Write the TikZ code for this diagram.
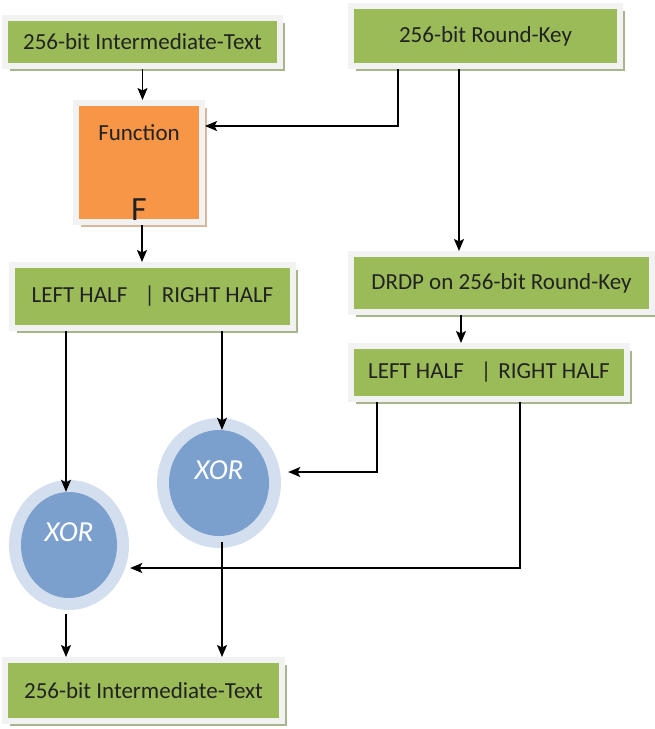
\documentclass[tikz,border=0pt]{standalone}
\usepackage{fontspec}
\setmainfont{Carlito}
\usetikzlibrary{arrows.meta,shadows,shapes.geometric}

\definecolor{boxgreen}{HTML}{9BBB59}
\definecolor{boxframe}{HTML}{F2F2F2}
\definecolor{greenshadow}{HTML}{A7B58E}
\definecolor{fnorange}{HTML}{F79646}
\definecolor{fnshadow}{HTML}{D6B89C}
\definecolor{xorfill}{HTML}{7BA0CD}
\definecolor{xorring}{HTML}{D3DFEE}
\definecolor{ink}{HTML}{222222}

\tikzset{
  block/.style={rectangle, inner sep=0pt, draw=boxframe, line width=6pt,
    fill=boxgreen, text=ink, font=\fontsize{23}{27}\selectfont,
    drop shadow={shadow xshift=5pt, shadow yshift=-5pt, fill=greenshadow, opacity=1}},
  fnblock/.style={block, fill=fnorange,
    drop shadow={shadow xshift=5pt, shadow yshift=-5pt, fill=fnshadow, opacity=1}},
  xorop/.style={ellipse, inner sep=0pt, fill=xorfill,
    preaction={draw=xorring, line width=24pt},
    text=white, font=\itshape\fontsize{29}{33}\selectfont,
    text height=20pt, text depth=27.4pt},
  conn/.style={draw=black, line width=1.4pt,
    -{Stealth[length=12pt,width=10pt,inset=2.5pt]}},
  halves/.style={block}
}

\begin{document}
\begin{tikzpicture}[x=1pt, y=-1pt]
  \fill[white] (0,0) rectangle (654,729);
  \useasboundingbox (0,0) rectangle (654,729);

  % text and key blocks
  \node[block, minimum width=275pt, minimum height=48pt] (txtin) at (142.5,42) {256-bit Intermediate-Text};
  \node[block, minimum width=269pt, minimum height=60pt] (rkey) at (485.5,36) {256-bit Round-Key};
  \node[fnblock, minimum width=126pt, minimum height=119pt,
        text height=17pt, text depth=62pt,
        label={[anchor=base, yshift=-47.5pt, text=ink, font=\fontsize{34}{40}\selectfont]center:F}]
        (func) at (139,162.5) {Function};
  \node[halves, minimum width=281pt, minimum height=63pt] (halfA) at (152.5,296.5)
        {LEFT HALF\hspace{17pt}|\hspace{7pt}RIGHT HALF};
  \node[block, minimum width=301pt, minimum height=58pt] (drdp) at (501.5,283) {DRDP on 256-bit Round-Key};
  \node[halves, minimum width=276pt, minimum height=53pt] (halfB) at (489,372.5)
        {LEFT HALF\hspace{17pt}|\hspace{7pt}RIGHT HALF};
  \node[block, minimum width=277pt, minimum height=61pt] (txtout) at (143.5,690.5) {256-bit Intermediate-Text};

  % XOR operators
  \node[xorop, minimum width=100pt, minimum height=106pt] (xorB) at (219,483) {XOR};
  \node[xorop, minimum width=96pt, minimum height=106pt] (xorA) at (69,545) {XOR};

  % connectors
  \draw[conn] (txtin.south) -- (txtin.south |- func.north);
  \draw[conn] ([xshift=-87.5pt]rkey.south) |- ([yshift=36.5pt]func.east);
  \draw[conn] ([xshift=-26.5pt]rkey.south) -- ([xshift=-26.5pt]rkey.south |- drdp.north);
  \draw[conn] ([xshift=3pt]func.south) -- ([xshift=3pt]func.south |- halfA.north);
  \draw[conn] ([xshift=-40.5pt]drdp.south) -- ([xshift=-40.5pt]drdp.south |- halfB.north);
  \draw[conn] ([xshift=-86.5pt]halfA.south) -- ([xshift=-86.5pt]halfA.south |- xorA.north);
  \draw[conn] ([xshift=69.5pt]halfA.south) -- ([xshift=69.5pt]halfA.south |- xorB.north);
  \draw[conn] ([xshift=-112pt]halfB.south) |- ([xshift=19pt,yshift=11pt]xorB.east);
  \draw[conn] ([xshift=31pt]halfB.south) |- ([xshift=13pt,yshift=-23pt]xorA.east);
  \draw[conn] ([xshift=-3pt,yshift=-16pt]xorA.south) -- ([xshift=-3pt]xorA.south |- txtout.north);
  \draw[conn] ([xshift=3pt,yshift=-6pt]xorB.south) -- ([xshift=3pt]xorB.south |- txtout.north);
\end{tikzpicture}
\end{document}
